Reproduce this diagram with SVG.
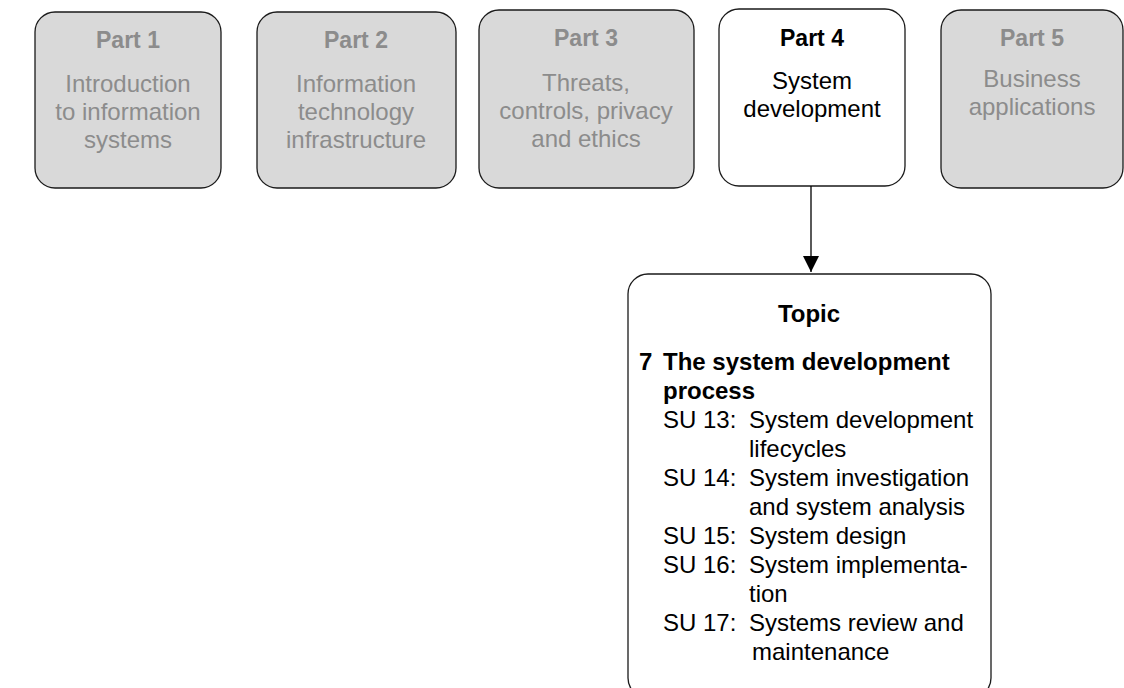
<svg xmlns="http://www.w3.org/2000/svg" width="1124" height="688" viewBox="0 0 1124 688">
<style>
.box{stroke:#1a1a1a;stroke-width:1.3}
.g{fill:#d9d9d9}
.w{fill:#ffffff}
text{font-family:"Liberation Sans",Arial,sans-serif;font-size:24px;text-anchor:middle}
.gt{fill:#8c8c8c}
.bt{fill:#000000}
.b{font-weight:bold}
.h{font-size:23px}
.l{text-anchor:start}
</style>
<defs>
<marker id="ah" markerWidth="18" markerHeight="16" refX="16" refY="8" orient="auto" markerUnits="userSpaceOnUse">
<path d="M0,0 L16,8 L0,16 Z" fill="#000"/>
</marker>
</defs>
<rect width="1124" height="688" fill="#fff"/>
<g id="part1">
<rect class="box g" x="35" y="12" width="186" height="176" rx="20"/>
<text class="gt b h" x="128" y="48">Part 1</text>
<text class="gt" x="128" y="92">Introduction</text>
<text class="gt" x="128" y="120">to information</text>
<text class="gt" x="128" y="148">systems</text>
</g>
<g id="part2">
<rect class="box g" x="257" y="12" width="199" height="176" rx="20"/>
<text class="gt b h" x="356" y="48">Part 2</text>
<text class="gt" x="356" y="92">Information</text>
<text class="gt" x="356" y="120">technology</text>
<text class="gt" x="356" y="148">infrastructure</text>
</g>
<g id="part3">
<rect class="box g" x="479" y="10" width="215" height="178" rx="20"/>
<text class="gt b h" x="586" y="46">Part 3</text>
<text class="gt" x="586" y="91">Threats,</text>
<text class="gt" x="586" y="119">controls, privacy</text>
<text class="gt" x="586" y="147">and ethics</text>
</g>
<g id="part4">
<rect class="box w" x="719" y="9" width="186" height="177" rx="20"/>
<text class="bt b h" x="812" y="46">Part 4</text>
<text class="bt" x="812" y="89">System</text>
<text class="bt" x="812" y="117">development</text>
</g>
<g id="part5">
<rect class="box g" x="941" y="10" width="182" height="178" rx="20"/>
<text class="gt b h" x="1032" y="46">Part 5</text>
<text class="gt" x="1032" y="87">Business</text>
<text class="gt" x="1032" y="115">applications</text>
</g>
<g id="connectors">
<line x1="811" y1="186" x2="811" y2="272" stroke="#000" stroke-width="1.3" marker-end="url(#ah)"/>
</g>
<g id="topic">
<rect class="box w" x="628" y="274" width="363" height="424" rx="20"/>
<text class="bt b" x="809" y="322">Topic</text>
<text class="bt b l" x="639" y="370">7</text>
<text class="bt b l" x="663" y="370">The system development</text>
<text class="bt b l" x="663" y="399">process</text>
<text class="bt l" x="663" y="428">SU 13:</text>
<text class="bt l" x="749" y="428">System development</text>
<text class="bt l" x="749" y="457">lifecycles</text>
<text class="bt l" x="663" y="486">SU 14:</text>
<text class="bt l" x="749" y="486">System investigation</text>
<text class="bt l" x="749" y="515">and system analysis</text>
<text class="bt l" x="663" y="544">SU 15:</text>
<text class="bt l" x="749" y="544">System design</text>
<text class="bt l" x="663" y="573">SU 16:</text>
<text class="bt l" x="749" y="573">System implementa-</text>
<text class="bt l" x="749" y="602">tion</text>
<text class="bt l" x="663" y="631">SU 17:</text>
<text class="bt l" x="749" y="631">Systems review and</text>
<text class="bt l" x="752" y="660">maintenance</text>
</g>
</svg>
